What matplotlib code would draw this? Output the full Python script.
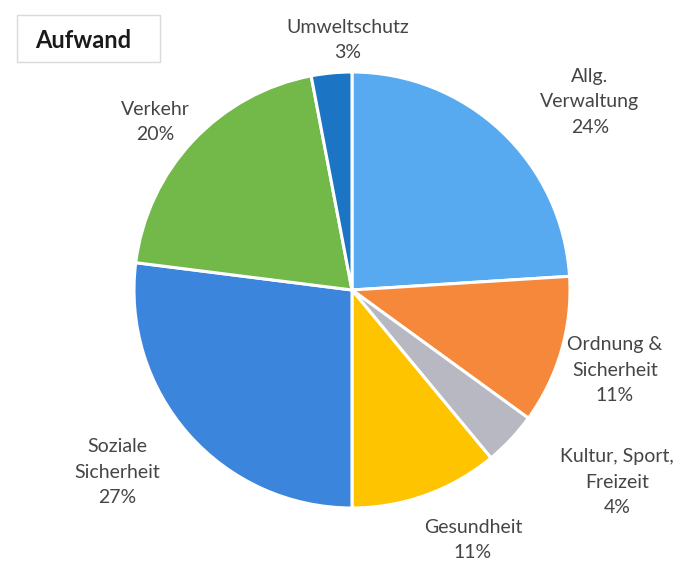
import matplotlib.pyplot as plt
from matplotlib.patches import FancyBboxPatch

# data
labels = ['Allg.\nVerwaltung', 'Ordnung &\nSicherheit', 'Kultur, Sport,\nFreizeit',
          'Gesundheit', 'Soziale\nSicherheit', 'Verkehr', 'Umweltschutz']
shares = [24, 11, 4, 11, 27, 20, 3]
colors = ['#58aaf0', '#f5883a', '#b8b8c2', '#ffc400', '#3b86dc', '#72b94a', '#1c74c4']

# label centres in pixels (x, y from top)
label_px = [(590, 102), (615, 370), (617, 482), (473, 540), (117, 472), (155, 122), (348, 40)]

W, H = 692, 567
cx, cy, r = 352, 290, 218

fig = plt.figure(figsize=(W / 100, H / 100), dpi=100)
ax = fig.add_axes([0, 0, 1, 1])
ax.axis('off')

ax.pie(shares, colors=colors, startangle=90, counterclock=False, radius=1,
       wedgeprops=dict(edgecolor='white', linewidth=2.2))
ax.set_xlim(-cx / r, (W - cx) / r)
ax.set_ylim(-(H - cy) / r, cy / r)

for lab, v, (px, py) in zip(labels, shares, label_px):
    ax.text((px - cx) / r, (cy - py) / r, f'{lab}\n{v}%', ha='center', va='center',
            fontsize=14, family='Lato', color='#454545', linespacing=1.6)

# title box
box = FancyBboxPatch((17 / W, 1 - 62 / H), 143 / W, 47 / H, boxstyle='square,pad=0',
                     transform=fig.transFigure, facecolor='white', edgecolor='#dadada', linewidth=1)
fig.patches.append(box)
fig.text(83 / W, 1 - 40 / H, 'Aufwand', ha='center', va='center', fontsize=17,
         fontweight='bold', family='Lato', color='#1a1a1a')

fig.savefig('out.png', dpi=100, facecolor='white')
